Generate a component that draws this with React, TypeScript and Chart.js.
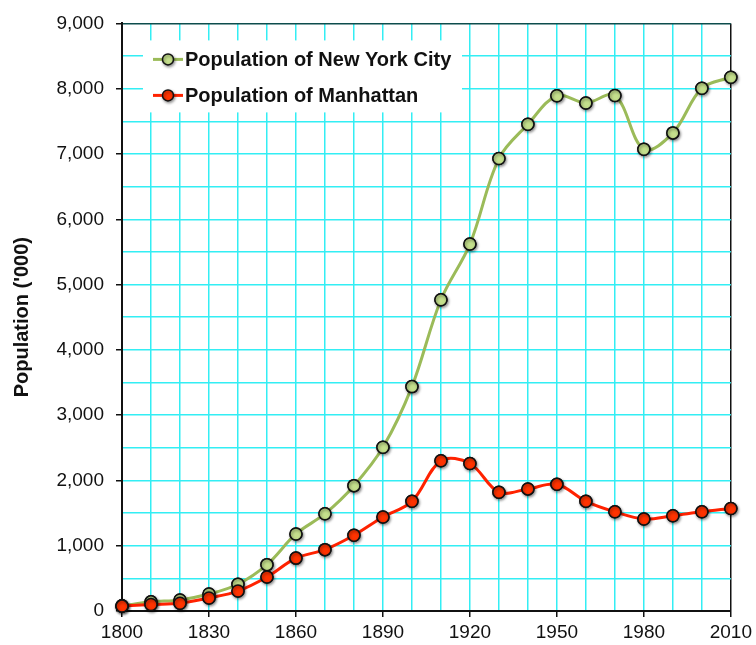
import React, { useEffect, useRef } from "react";
import { Chart, registerables } from "chart.js";

Chart.register(...registerables);

const years = [1800, 1810, 1820, 1830, 1840, 1850, 1860, 1870, 1880, 1890, 1900, 1910, 1920, 1930, 1940, 1950, 1960, 1970, 1980, 1990, 2000, 2010];
const nycPopulation = [79, 140, 170, 260, 410, 710, 1180, 1490, 1920, 2507, 3437, 4767, 5620, 6930, 7455, 7892, 7782, 7895, 7072, 7323, 8008, 8175];
const manhattanPopulation = [75, 100, 120, 200, 305, 520, 810, 940, 1160, 1440, 1680, 2300, 2260, 1820, 1870, 1940, 1680, 1520, 1410, 1460, 1520, 1570];
const seriesLabels = ["Population of New York City", "Population of Manhattan"];
const yTitle = "Population ('000)";

const FONT = "'Liberation Sans', Arial, sans-serif";

const shadowPointsPlugin = {
  id: "shadowPoints",
  afterDatasetsDraw(chart: any) {
    const ctx = chart.ctx;
    ctx.save();
    ctx.shadowColor = "rgba(0,0,0,0.45)";
    ctx.shadowBlur = 3;
    ctx.shadowOffsetX = 1;
    ctx.shadowOffsetY = 1.5;
    [0, 1].forEach((i) => {
      const meta = chart.getDatasetMeta(i);
      meta.data.forEach((p: any) => p.draw(ctx));
    });
    ctx.restore();
  },
};

const legendPlugin = {
  id: "insetLegend",
  afterDraw(chart: any) {
    const ctx = chart.ctx;
    const area = chart.chartArea;
    const x0 = area.left + 21;
    const y0 = area.top + 17;
    const w = 319;
    const h = 72;
    ctx.save();
    ctx.fillStyle = "#ffffff";
    ctx.fillRect(x0, y0, w, h);
    const ds = chart.data.datasets;
    const rows = [y0 + 19, y0 + 55];
    ds.forEach((d: any, i: number) => {
      const y = rows[i];
      ctx.strokeStyle = d.borderColor;
      ctx.lineWidth = 3;
      ctx.beginPath();
      ctx.moveTo(x0 + 10, y);
      ctx.lineTo(x0 + 40, y);
      ctx.stroke();
      ctx.save();
      ctx.shadowColor = "rgba(0,0,0,0.4)";
      ctx.shadowBlur = 3;
      ctx.shadowOffsetX = 1;
      ctx.shadowOffsetY = 1.5;
      ctx.beginPath();
      ctx.arc(x0 + 25, y, 5.5, 0, Math.PI * 2);
      ctx.fillStyle = d.pointBackgroundColor;
      ctx.fill();
      ctx.lineWidth = 1.5;
      ctx.strokeStyle = "#111";
      ctx.stroke();
      ctx.restore();
      ctx.fillStyle = "#111";
      ctx.font = `bold 20px ${FONT}`;
      ctx.textBaseline = "middle";
      ctx.textAlign = "left";
      ctx.fillText(d.label, x0 + 42, y + 1);
    });
    ctx.restore();
  },
};

export default function App() {
  const ref = useRef<HTMLCanvasElement | null>(null);
  useEffect(() => {
    document.body.style.margin = "0";
    if (!ref.current) return;
    const chart = new Chart(ref.current, {
      type: "line",
      data: {
        datasets: [
          {
            label: seriesLabels[0],
            data: years.map((y, i) => ({ x: y, y: nycPopulation[i] })),
            borderColor: "#9bbb59",
            borderWidth: 3,
            pointBackgroundColor: "#c4df8c",
            pointBorderColor: "#111",
            pointBorderWidth: 1.5,
            pointRadius: 6,
            tension: 0.35,
            order: 1,
            clip: false as any,
          },
          {
            label: seriesLabels[1],
            data: years.map((y, i) => ({ x: y, y: manhattanPopulation[i] })),
            borderColor: "#ff2200",
            borderWidth: 3,
            pointBackgroundColor: "#ff3300",
            pointBorderColor: "#111",
            pointBorderWidth: 1.5,
            pointRadius: 6,
            tension: 0.35,
            order: 0,
            clip: false as any,
          },
        ],
      },
      options: {
        animation: false,
        responsive: false,
        maintainAspectRatio: false,
        layout: { padding: { top: 21, right: 25, bottom: 0, left: 0 } },
        plugins: { legend: { display: false }, tooltip: { enabled: false } },
        scales: {
          x: {
            type: "linear",
            min: 1800,
            max: 2010,
            afterFit: (s: any) => {
              s.height = 34;
            },
            ticks: {
              stepSize: 10,
              autoSkip: false,
              maxRotation: 0,
              padding: 4,
              color: "#111",
              font: { family: FONT, size: 19 },
              callback: (v: any) => (Number(v) % 30 === 0 ? String(v) : ""),
            },
            grid: {
              color: (c: any) => (c.tick && c.tick.value === 2010 ? "#111" : "#33eef4"),
              lineWidth: 1.5,
              tickLength: 6,
              tickColor: (c: any) => (c.tick && c.tick.value % 30 === 0 ? "#111" : "rgba(0,0,0,0)"),
            },
            border: { color: "#111", width: 2 },
          },
          y: {
            min: 0,
            max: 9000,
            afterFit: (s: any) => {
              s.width = 122;
            },
            ticks: {
              stepSize: 500,
              autoSkip: false,
              padding: 12,
              color: "#111",
              font: { family: FONT, size: 19 },
              callback: (v: any) => (Number(v) % 1000 === 0 ? Number(v).toLocaleString("en-US") : ""),
            },
            grid: {
              color: (c: any) => (c.tick && c.tick.value === 9000 ? "#0d4d4d" : "#33eef4"),
              lineWidth: 1.5,
              tickLength: 6,
              tickColor: (c: any) => (c.tick && c.tick.value % 1000 === 0 ? "#111" : "rgba(0,0,0,0)"),
            },
            border: { color: "#111", width: 2 },
            title: {
              display: true,
              text: yTitle,
              color: "#111",
              font: { family: FONT, size: 20, weight: "bold" },
              padding: { top: 10, bottom: 0 },
            },
          },
        },
      },
      plugins: [shadowPointsPlugin, legendPlugin],
    });
    return () => chart.destroy();
  }, []);
  return (
    <div style={{ position: "fixed", left: 0, top: 0, width: 756, height: 645, background: "#fff" }}>
      <canvas ref={ref} width={756} height={645} style={{ display: "block", width: 756, height: 645 }} />
    </div>
  );
}
